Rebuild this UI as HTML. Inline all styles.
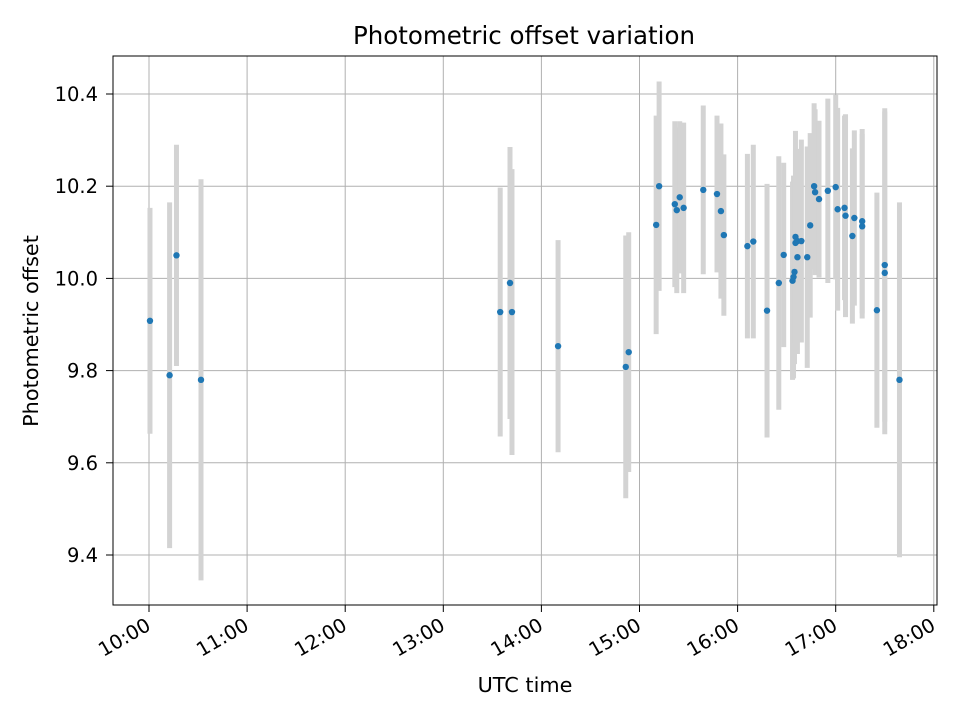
<!DOCTYPE html>
<html><head><meta charset="utf-8"><style>
body{margin:0;background:#fff}
text{font-family:"DejaVu Sans","Liberation Sans",sans-serif;fill:#000}
</style></head><body>
<svg id="chart" width="960" height="720" xmlns="http://www.w3.org/2000/svg">
<rect width="960" height="720" fill="#fff"/>
<g id="grid"></g><g id="errs"></g><g id="pts"></g><g id="axes"></g>
<text x="524" y="44" font-size="24.5" text-anchor="middle">Photometric offset variation</text>
<text x="525" y="692" font-size="20.8" text-anchor="middle">UTC time</text>
<text transform="translate(38,331) rotate(-90)" font-size="20.8" text-anchor="middle">Photometric offset</text>
</svg>
<script>
const times=[10.01,10.21,10.28,10.53,13.58,13.68,13.7,14.17,14.86,14.89,15.17,15.2,15.36,15.38,15.41,15.45,15.65,15.79,15.83,15.86,16.1,16.16,16.3,16.42,16.47,16.56,16.57,16.58,16.59,16.59,16.61,16.61,16.65,16.71,16.74,16.78,16.79,16.83,16.92,17.0,17.02,17.09,17.1,17.19,17.17,17.27,17.27,17.42,17.5,17.5,17.65];
const values=[9.908,9.79,10.05,9.78,9.927,9.99,9.927,9.853,9.808,9.84,10.116,10.2,10.161,10.148,10.176,10.153,10.192,10.183,10.146,10.094,10.07,10.08,9.93,9.99,10.051,9.995,10.003,10.014,10.077,10.09,10.081,10.046,10.081,10.046,10.115,10.2,10.187,10.172,10.19,10.198,10.15,10.153,10.136,10.131,10.092,10.124,10.113,9.931,10.029,10.012,9.78];
const errors=[0.245,0.375,0.24,0.435,0.27,0.295,0.31,0.23,0.285,0.26,0.237,0.227,0.18,0.18,0.165,0.185,0.183,0.17,0.19,0.175,0.2,0.21,0.275,0.275,0.2,0.215,0.22,0.2,0.2,0.23,0.2,0.21,0.22,0.24,0.2,0.18,0.18,0.17,0.2,0.2,0.22,0.2,0.22,0.19,0.19,0.2,0.2,0.255,0.34,0.35,0.385];
const xTicks=[10,11,12,13,14,15,16,17,18];
const xTickLabels=["10:00","11:00","12:00","13:00","14:00","15:00","16:00","17:00","18:00"];
const yTicks=[9.4,9.6,9.8,10.0,10.2,10.4];
const yTickLabels=["9.4","9.6","9.8","10.0","10.2","10.4"];
const L=113,R=937,T=56,B=605;
const xs=h=>149+(h-10)*98.1;
const ys=v=>94+(10.4-v)*461;
const NS="http://www.w3.org/2000/svg";
function mk(tag,attrs,parent){const e=document.createElementNS(NS,tag);for(const k in attrs)e.setAttribute(k,attrs[k]);parent.appendChild(e);return e;}
const grid=document.getElementById('grid'),errs=document.getElementById('errs'),pts=document.getElementById('pts'),axes=document.getElementById('axes');
xTicks.forEach((t,i)=>{const x=xs(t);
 const g=mk('line',{x1:x,x2:x,y1:T,y2:B,stroke:'#b0b0b0','stroke-width':1},grid);
 
 
 mk('line',{x1:x,x2:x,y1:B,y2:B+7,stroke:'#000','stroke-width':1},axes);
 const ax=x+3, ay=B+24;
 const tx=mk('text',{x:ax,y:ay,'font-size':19.5,'text-anchor':'end',transform:`rotate(-30 ${ax} ${ay})`},axes);
 tx.textContent=xTickLabels[i];
 
 
});
yTicks.forEach((t,i)=>{const y=ys(t);
 const g=mk('line',{x1:L,x2:R,y1:y,y2:y,stroke:'#b0b0b0','stroke-width':1},grid);
 
 
 mk('line',{x1:L-7,x2:L,y1:y,y2:y,stroke:'#000','stroke-width':1},axes);
 const tx=mk('text',{x:L-15,y:y+7,'font-size':19.5,'text-anchor':'end'},axes);
 tx.textContent=yTickLabels[i];
 
 
});
const fr=mk('rect',{x:L,y:T,width:R-L,height:B-T,fill:'none',stroke:'#000','stroke-width':1},axes);


times.forEach((t,i)=>{const x=xs(t);
 const e=mk('line',{x1:x,x2:x,y1:ys(values[i]+errors[i]),y2:ys(values[i]-errors[i]),stroke:'#d3d3d3','stroke-width':5},errs);
 
 
 const c=mk('circle',{cx:x,cy:ys(values[i]),r:3.2,fill:'#1f77b4'},pts);
 
 
});
</script>
</body></html>
